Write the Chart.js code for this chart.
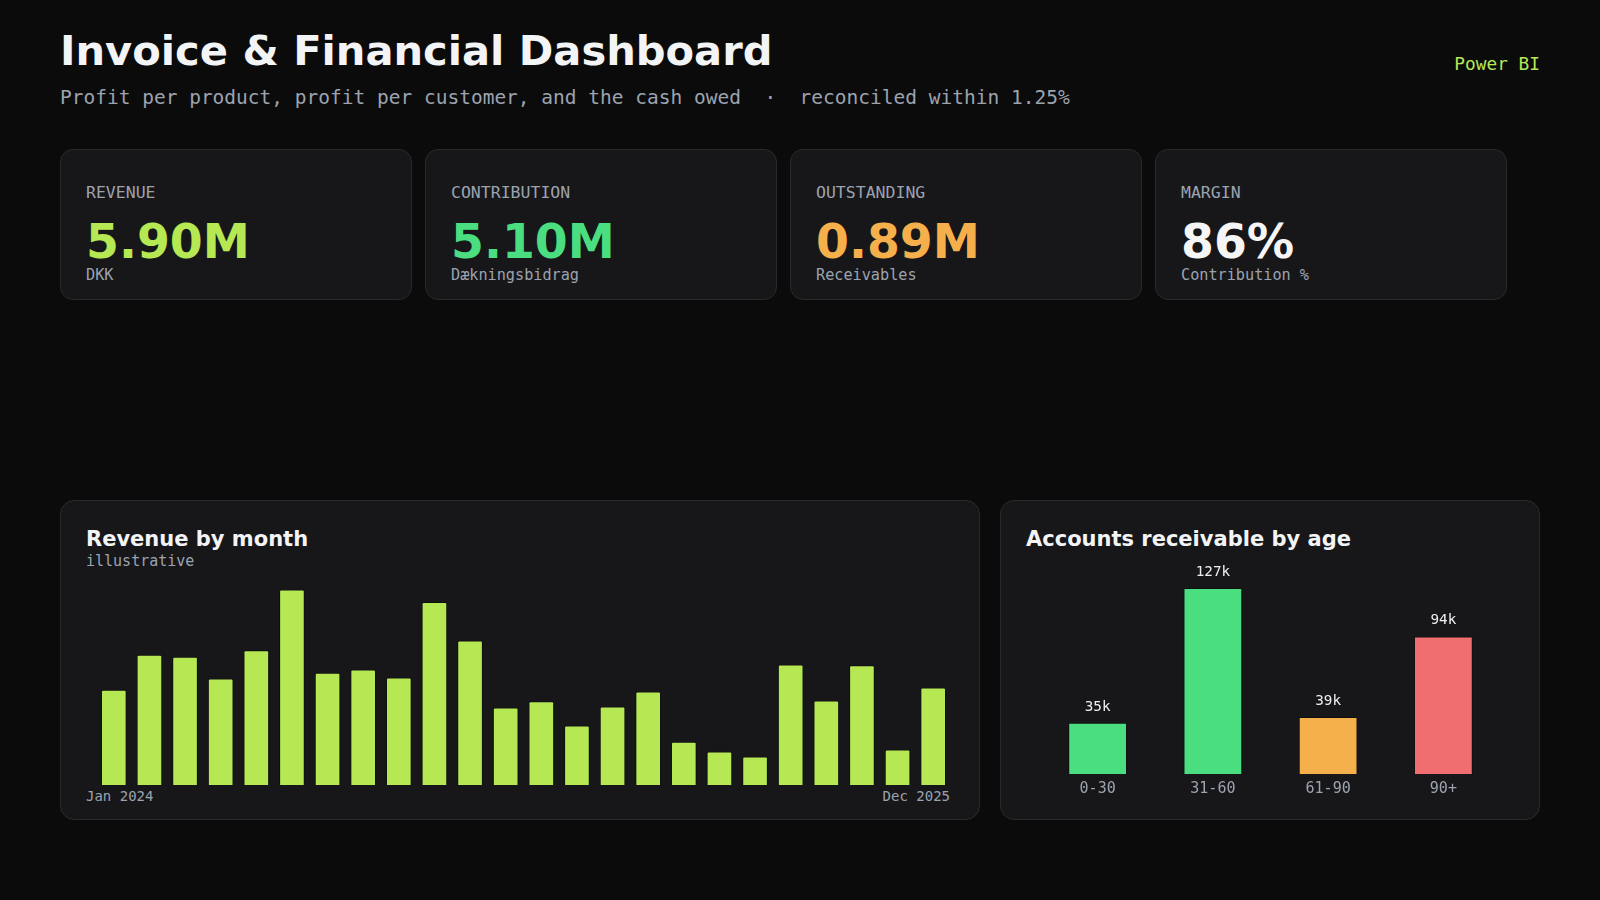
<!DOCTYPE html>
<html lang="en">
<head>
  <meta charset="UTF-8" />
  <title>Invoice &amp; Financial Dashboard</title>
  <style>
    html, body { margin:0; width:1600px; height:900px; overflow:hidden;
                 background:#0b0b0c; font-family:"DejaVu Sans", sans-serif; }
    .abs { position:absolute; white-space:nowrap; line-height:1; }
    .mono { font-family:"DejaVu Sans Mono", monospace; }
    #title { left:60px; top:29.5px; font-size:41.6px; font-weight:bold; color:#f3f4f6; }
    #subtitle { left:60px; top:88.2px; font-size:19.5px; color:#9ca3af; white-space:pre; }
    #brand { right:60px; top:55px; font-size:17.8px; color:#b5e853; }
    .card { position:absolute; top:149px; width:352px; height:151px; box-sizing:border-box;
            background:#17171a; border:1px solid #2a2a2e; border-radius:13px; }
    .card .lbl { left:25px; top:35px; font-size:16.5px; color:#9ca3af; }
    .card .val { left:25px; top:68px; font-size:47.3px; font-weight:bold; }
    .card .sub { left:25px; top:117.5px; font-size:15.2px; color:#9ca3af; }
    .panel { position:absolute; top:500px; height:320px; box-sizing:border-box;
             background:#17171a; border:1px solid #2a2a2e; border-radius:14px; }
    .panel h2 { position:absolute; margin:0; left:25px; top:28px; font-size:21px; line-height:1;
                font-weight:bold; color:#f3f4f6; white-space:nowrap; }
    .chartbox { position:absolute; }
  </style>
</head>
<body>
  <div id="title" class="abs">Invoice &amp; Financial Dashboard</div>
  <div id="subtitle" class="abs mono">Profit per product, profit per customer, and the cash owed  ·  reconciled within 1.25%</div>
  <div id="brand" class="abs mono">Power BI</div>

  <div class="card" style="left:60px">
    <div class="abs mono lbl">REVENUE</div>
    <div class="abs val" style="color:#b5e853">5.90M</div>
    <div class="abs mono sub">DKK</div>
  </div>
  <div class="card" style="left:425px">
    <div class="abs mono lbl">CONTRIBUTION</div>
    <div class="abs val" style="color:#4ade80">5.10M</div>
    <div class="abs mono sub">Dækningsbidrag</div>
  </div>
  <div class="card" style="left:790px">
    <div class="abs mono lbl">OUTSTANDING</div>
    <div class="abs val" style="color:#f5b04c">0.89M</div>
    <div class="abs mono sub">Receivables</div>
  </div>
  <div class="card" style="left:1155px">
    <div class="abs mono lbl">MARGIN</div>
    <div class="abs val" style="color:#f5f5f5">86%</div>
    <div class="abs mono sub">Contribution %</div>
  </div>

  <div class="panel" style="left:60px; width:920px">
    <h2>Revenue by month</h2>
    <div class="abs mono" style="left:25px; top:53px; font-size:15px; color:#9ca3af">illustrative</div>
    <div class="abs mono" id="firstMonth" style="left:25px; top:288px; font-size:14px; color:#9ca3af"></div>
    <div class="abs mono" id="lastMonth" style="right:29px; top:288px; font-size:14px; color:#9ca3af"></div>
  </div>
  <div class="chartbox" style="left:96px; top:589px; width:855px; height:196px"><canvas id="revChart"></canvas></div>

  <div class="panel" style="left:1000px; width:540px">
    <h2>Accounts receivable by age</h2>
  </div>
  <div class="chartbox" style="left:1040px; top:550px; width:461px; height:254px"><canvas id="arChart"></canvas></div>

  <script src="https://cdn.jsdelivr.net/npm/chart.js"></script>
  <script>
  // monthly revenue, thousand DKK
  const months = ['Jan 2024','Feb 2024','Mar 2024','Apr 2024','May 2024','Jun 2024',
                  'Jul 2024','Aug 2024','Sep 2024','Oct 2024','Nov 2024','Dec 2024',
                  'Jan 2025','Feb 2025','Mar 2025','Apr 2025','May 2025','Jun 2025',
                  'Jul 2025','Aug 2025','Sep 2025','Oct 2025','Nov 2025','Dec 2025'];
  const revenueK = [233,319,314,261,330,479,275,283,263,448,354,190,
                    205,146,192,229,106,82,70,295,207,293,87,239];

  // receivables by age bucket, thousand DKK
  const ageBuckets = ['0-30','31-60','61-90','90+'];
  const receivablesK = [35,127,39,94];
  const ageColors = ['#4ade80','#4ade80','#f5b04c','#f06d70'];

  document.getElementById('firstMonth').textContent = months[0];
  document.getElementById('lastMonth').textContent = months[months.length - 1];

  Chart.defaults.font.family = '"DejaVu Sans Mono", monospace';
  Chart.defaults.color = '#9ca3af';
  Chart.defaults.animation = false;

  // revenue bars
  new Chart(document.getElementById('revChart'), {
    type: 'bar',
    data: {
      labels: months,
      datasets: [{
        data: revenueK,
        backgroundColor: '#b5e853',
        borderColor: 'rgba(0,0,0,0.35)',
        borderWidth: 1,
        borderRadius: 2,
        categoryPercentage: 0.8,
        barPercentage: 0.9
      }]
    },
    options: {
      responsive: true,
      maintainAspectRatio: false,
      layout: { padding: 0 },
      plugins: { legend: { display: false }, tooltip: { enabled: false } },
      scales: {
        x: { display: false },
        y: { display: false, min: 0, max: 480 }
      }
    }
  });

  // value labels above the receivable bars
  const valueLabels = {
    id: 'valueLabels',
    afterDatasetsDraw(chart) {
      const { ctx } = chart;
      const meta = chart.getDatasetMeta(0);
      ctx.save();
      ctx.font = '14.3px "DejaVu Sans Mono", monospace';
      ctx.fillStyle = '#eceef1';
      ctx.textAlign = 'center';
      ctx.textBaseline = 'alphabetic';
      meta.data.forEach((bar, i) => {
        ctx.fillText(receivablesK[i] + 'k', bar.x, bar.y - 12);
      });
      ctx.restore();
    }
  };

  new Chart(document.getElementById('arChart'), {
    type: 'bar',
    data: {
      labels: ageBuckets,
      datasets: [{
        data: receivablesK,
        backgroundColor: ageColors,
        borderColor: 'rgba(0,0,0,0.35)',
        borderWidth: 1,
        borderRadius: 1,
        categoryPercentage: 1.0,
        barPercentage: 0.51
      }]
    },
    options: {
      responsive: true,
      maintainAspectRatio: false,
      layout: { padding: 0 },
      plugins: { legend: { display: false }, tooltip: { enabled: false } },
      scales: {
        x: {
          grid: { display: false, drawTicks: false },
          border: { display: false },
          ticks: { color: '#9ca3af', font: { size: 15 }, padding: 6 }
        },
        y: { display: false, min: 0, max: 153 }
      }
    },
    plugins: [valueLabels]
  });
  </script>
</body>
</html>
